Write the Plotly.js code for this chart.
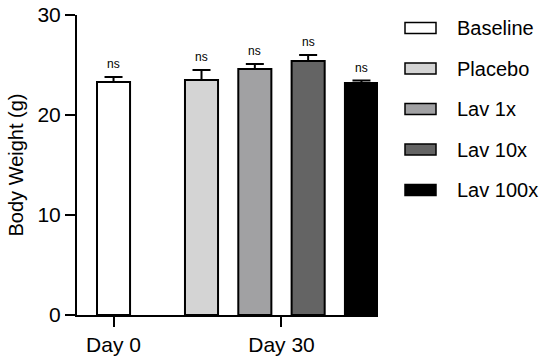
<!DOCTYPE html>
<html>
<head>
<meta charset="utf-8">
<script src="https://cdn.plot.ly/plotly-3.0.1.min.js"></script>
<style>html,body{margin:0;padding:0;background:#fff;}#chart{width:550px;height:362px;}</style>
</head>
<body>
<div id="chart"></div>
<script>
// Data
var groups = ["Baseline", "Placebo", "Lav 1x", "Lav 10x", "Lav 100x"];
var positions = [0, 1.65, 2.65, 3.65, 4.65];
var means = [23.3, 23.5, 24.6, 25.4, 23.2];
var errors = [0.5, 1.0, 0.5, 0.6, 0.25];
var significance = ["ns", "ns", "ns", "ns", "ns"];
var colors = ["#ffffff", "#d4d4d4", "#a1a1a3", "#646464", "#000000"];
var dayTickVals = [0, 3.15];
var dayTickText = ["Day 0", "Day 30"];

var FONT = "Liberation Sans, Arial, sans-serif";

var traces = groups.map(function (g, i) {
  return {
    type: "bar",
    name: g,
    x: [positions[i]],
    y: [means[i]],
    width: 0.62,
    marker: { color: colors[i], line: { color: "#000", width: 2 } },
    error_y: {
      type: "data", symmetric: false, array: [errors[i]], arrayminus: [0],
      color: "#000", thickness: 2, width: 9
    },
    showlegend: false,
    hoverinfo: "skip"
  };
});

var annotations = groups.map(function (g, i) {
  return {
    x: positions[i], y: means[i] + errors[i], xref: "x", yref: "y",
    text: significance[i], showarrow: false, yanchor: "bottom", yshift: 4,
    font: { family: FONT, size: 12, color: "#000" }
  };
});

// Custom legend (paper coordinates)
var shapes = [];
var legTop = 28, legStep = 40.5;
groups.forEach(function (g, i) {
  var cy = legTop + i * legStep;
  shapes.push({
    type: "rect", xref: "paper", yref: "paper",
    x0: (405 - 77) / (378 - 77), x1: (436 - 77) / (378 - 77),
    y0: (315 - (cy + 5.5)) / 300, y1: (315 - (cy - 5.5)) / 300,
    fillcolor: colors[i], line: { color: "#000", width: 1.5 }
  });
  annotations.push({
    xref: "paper", yref: "paper",
    x: (455 - 77) / (378 - 77), y: (315 - cy) / 300,
    xanchor: "left", yanchor: "middle", showarrow: false,
    text: g, font: { family: FONT, size: 20, color: "#000" }
  });
});

var layout = {
  width: 550, height: 362,
  margin: { l: 77, r: 172, t: 15, b: 47 },
  paper_bgcolor: "#fff", plot_bgcolor: "#fff",
  font: { family: FONT, color: "#000" },
  bargap: 0,
  xaxis: {
    range: [-0.685, 4.96],
    tickvals: dayTickVals, ticktext: dayTickText,
    ticks: "outside", ticklen: 10, tickwidth: 2, tickcolor: "#000",
    showline: true, linecolor: "#000", linewidth: 2,
    showgrid: false, zeroline: false,
    tickfont: { family: FONT, size: 21, color: "#000" }
  },
  yaxis: {
    range: [0, 30],
    tickvals: [0, 10, 20, 30],
    ticks: "outside", ticklen: 10, tickwidth: 2, tickcolor: "#000",
    showline: true, linecolor: "#000", linewidth: 2,
    showgrid: false, zeroline: false,
    tickfont: { family: FONT, size: 21, color: "#000" },
    title: { text: "Body Weight (g)", font: { family: FONT, size: 20, color: "#000" }, standoff: 8 }
  },
  annotations: annotations,
  shapes: shapes,
  showlegend: false
};

Plotly.newPlot("chart", traces, layout, { staticPlot: true, displayModeBar: false });
</script>
</body>
</html>
